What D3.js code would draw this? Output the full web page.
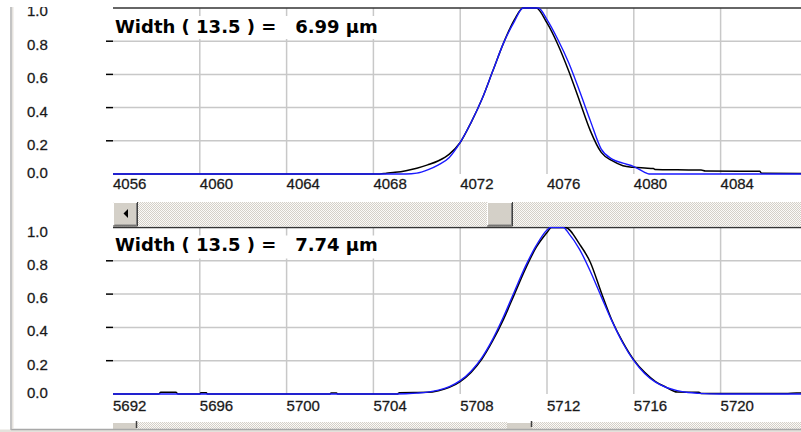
<!DOCTYPE html>
<html>
<head>
<meta charset="utf-8">
<script src="https://cdn.jsdelivr.net/npm/d3@7"></script>
<style>
html,body{margin:0;padding:0;background:#fff;}
svg{display:block;}
.lbl{font-family:"Liberation Sans",Arial,sans-serif;font-size:15px;fill:#111;stroke:#333;stroke-width:0.3px;}
.title{font-family:"DejaVu Sans",Verdana,sans-serif;font-weight:bold;font-size:18px;fill:#000;white-space:pre;}
</style>
</head>
<body>
<svg id="chart" width="801" height="432"></svg>
<script>
// --- Data ---
const yTicks = [0, 0.2, 0.4, 0.6, 0.8, 1.0];

const topTitle = "Width ( 13.5 ) =   6.99 µm";
const topDomain = [4056, 4088];
const topTicks = [4056, 4060, 4064, 4068, 4072, 4076, 4080, 4084];
// measured profile (black)
const topBlack = [
  [4056,0],[4068.3,0],[4068.6,0.005],[4069,0.01],[4069.5,0.02],[4070,0.035],[4070.5,0.055],
  [4071,0.08],[4071.5,0.12],[4072,0.19],[4072.5,0.31],[4073,0.45],[4073.5,0.62],[4074,0.79],
  [4074.5,0.93],[4074.9,1.0],[4075.5,1.0],[4076,0.91],[4076.5,0.78],[4077,0.62],[4077.5,0.44],
  [4078,0.26],[4078.5,0.13],[4079,0.08],[4079.5,0.05],[4080,0.04],[4080.5,0.036],[4080.9,0.033],
  [4081,0.027],[4082,0.025],[4083.1,0.024],[4083.3,0.018],[4085.8,0.016],[4085.9,0.004],[4088,0.003]
];
// gaussian fit (blue)
const topBlue = [
  [4056,0],[4069.5,0],[4070,0.005],[4070.5,0.025],[4071,0.055],[4071.5,0.10],[4072,0.19],
  [4072.5,0.31],[4073,0.45],[4073.5,0.62],[4074,0.79],[4074.5,0.92],[4074.9,1.0],[4075.6,1.0],
  [4076,0.93],[4076.5,0.81],[4077,0.67],[4077.5,0.50],[4078,0.32],[4078.5,0.15],[4079,0.09],
  [4079.5,0.065],[4080,0.045],[4080.5,0.01],[4080.7,0],[4088,0]
];

const botTitle = "Width ( 13.5 ) =   7.74 µm";
const botDomain = [5692, 5724];
const botTicks = [5692, 5696, 5700, 5704, 5708, 5712, 5716, 5720];
const botBlack = [
  [5692,0],[5694.1,0],[5694.2,0.01],[5694.9,0.01],[5695,0],[5696,0],[5696.05,0.008],[5696.3,0.008],
  [5696.35,0],[5702,0],[5702.05,0.006],[5702.3,0.006],[5702.35,0],[5705.1,0],[5705.2,0.008],
  [5706.5,0.01],[5707,0.02],[5707.5,0.04],[5708,0.075],[5708.5,0.13],[5709,0.21],[5709.5,0.32],
  [5710,0.45],[5710.5,0.60],[5711,0.75],[5711.5,0.88],[5712,0.97],[5712.2,1.0],[5712.85,1.0],
  [5713.5,0.90],[5714,0.79],[5714.5,0.61],[5715,0.44],[5715.5,0.31],[5716,0.205],[5716.5,0.13],
  [5717,0.075],[5717.5,0.04],[5718,0.012],[5719,0.01],[5719.1,0.003],[5723,0.003],[5723.5,0.006],[5724,0.003]
];
const botBlue = [
  [5692,0],[5705,0],[5706,0.005],[5706.5,0.011],[5707,0.023],[5707.5,0.044],[5708,0.08],
  [5708.5,0.137],[5709,0.219],[5709.5,0.33],[5710,0.465],[5710.5,0.616],[5711,0.765],
  [5711.5,0.891],[5712,0.985],[5712.15,1.0],[5712.75,1.0],[5713,0.965],[5713.5,0.869],
  [5714,0.736],[5714.5,0.585],[5715,0.436],[5715.5,0.305],[5716,0.20],[5716.5,0.123],
  [5717,0.071],[5717.5,0.039],[5718,0.02],[5718.5,0.009],[5719,0.004],[5720,0],[5724,0]
];

// --- Layout ---
const svg = d3.select("#chart");
const X0 = 113, PX = 21.7;   // plot left edge, px per unit
const fmt = d3.format(".1f");

// dithered scrollbar track
const defs = svg.append("defs");
const pat = defs.append("pattern").attr("id","dither").attr("width",2).attr("height",2)
  .attr("patternUnits","userSpaceOnUse");
pat.append("rect").attr("width",2).attr("height",2).attr("fill","#fbfaf8");
pat.append("rect").attr("width",1).attr("height",1).attr("fill","#d4d0c8");
pat.append("rect").attr("x",1).attr("y",1).attr("width",1).attr("height",1).attr("fill","#d4d0c8");

const panels = [
  {id:"p1", title:topTitle, domain:topDomain, ticks:topTicks, black:topBlack, blue:topBlue, top:8, bottom:174, lblY:188.5, titleY:33},
  {id:"p2", title:botTitle, domain:botDomain, ticks:botTicks, black:botBlack, blue:botBlue, top:227.5, bottom:394, lblY:410.5, titleY:250.5}
];

panels.forEach((p, i) => {
  const x = d3.scaleLinear().domain(p.domain).range([X0, X0 + PX*(p.domain[1]-p.domain[0])]);
  const y = d3.scaleLinear().domain([0,1]).range([p.bottom, p.top]);
  const g = svg.append("g");

  defs.append("clipPath").attr("id","clip"+p.id).append("rect")
    .attr("x",X0).attr("y",p.top-1).attr("width",801-X0).attr("height",p.bottom-p.top+2.5);

  // grid
  g.selectAll(".vg").data(p.ticks.slice(1)).enter().append("line")
    .attr("x1",d=>x(d)).attr("x2",d=>x(d)).attr("y1",p.top).attr("y2",p.bottom)
    .attr("stroke","#c8c8c8").attr("stroke-width",1.5);
  g.selectAll(".hg").data(yTicks.filter(v=>v>0 && v<1)).enter().append("line")
    .attr("x1",X0).attr("x2",801).attr("y1",d=>y(d)).attr("y2",d=>y(d))
    .attr("stroke","#c8c8c8").attr("stroke-width",1.5);

  // left tick marks
  g.selectAll(".tk").data(yTicks.filter(v=>v>0 && v<1)).enter().append("line")
    .attr("x1",106).attr("x2",X0).attr("y1",d=>y(d)).attr("y2",d=>y(d))
    .attr("stroke","#000").attr("stroke-width",1.5);

  // top border
  g.append("line").attr("x1",X0).attr("x2",801).attr("y1",p.top).attr("y2",p.top)
    .attr("stroke","#333").attr("stroke-width",1.5);

  // title box
  g.append("rect").attr("x",X0+1).attr("y",p.top+8).attr("width",270).attr("height",23).attr("fill","#fff");
  g.append("text").attr("class","title").attr("x",115).attr("y",p.titleY).text(p.title);

  // curves
  const line = d3.line().x(d=>x(d[0])).y(d=>y(Math.min(d[1],1))).curve(d3.curveMonotoneX);
  const cg = g.append("g").attr("clip-path",`url(#clip${p.id})`);
  cg.append("path").attr("d",line(p.black)).attr("fill","none").attr("stroke","#000").attr("stroke-width",1.5);
  cg.append("path").attr("d",line(p.blue)).attr("fill","none").attr("stroke","#1a1aff").attr("stroke-width",1.4);

  // labels
  g.selectAll(".xl").data(p.ticks).enter().append("text").attr("class","lbl")
    .attr("x",d=>x(d)).attr("y",p.lblY).text(d=>d);
  g.selectAll(".yl").data(yTicks).enter().append("text").attr("class","lbl")
    .attr("x",27).attr("y",d=> d===0 ? y(d)+3.5 : (i===0 && d===1 ? y(d)+7.5 : y(d)+9)).text(d=>fmt(d));
});

// cover strip at the very top (the 1.0 label is cut there)
svg.append("rect").attr("x",0).attr("y",0).attr("width",801).attr("height",7).attr("fill","#fff");

// Win-style button
function button(gg, x0, y0, w, h){
  gg.append("rect").attr("x",x0).attr("y",y0).attr("width",w).attr("height",h).attr("fill","#d4d0c8");
  gg.append("path").attr("d",`M${x0+0.5},${y0+h}V${y0+0.5}H${x0+w}`).attr("stroke","#fff").attr("fill","none");
  gg.append("path").attr("d",`M${x0+1.5},${y0+h-1.5}H${x0+w-1.5}V${y0+1}`).attr("stroke","#808080").attr("fill","none");
  gg.append("path").attr("d",`M${x0},${y0+h-0.5}H${x0+w-0.5}V${y0}`).attr("stroke","#404040").attr("fill","none");
}

// scrollbar between panels
const sb = svg.append("g");
sb.append("rect").attr("x",X0).attr("y",202).attr("width",801-X0).attr("height",24.5).attr("fill","url(#dither)");
button(sb, X0, 202, 25, 24.5);
sb.append("path").attr("d","M123.5,213.5L128,209V218Z").attr("fill","#000");
button(sb, 487, 202, 26, 24.5);

// partly visible scrollbar at the bottom
const sb2 = svg.append("g");
sb2.append("rect").attr("x",X0).attr("y",422).attr("width",801-X0).attr("height",7.5).attr("fill","url(#dither)");
sb2.append("rect").attr("x",X0).attr("y",422).attr("width",24).attr("height",7.5).attr("fill","#d4d0c8");
sb2.append("path").attr("d",`M${X0},422.5H137`).attr("stroke","#fff");
sb2.append("path").attr("d","M136.5,421V428").attr("stroke","#404040").attr("stroke-width",1.5);
sb2.append("rect").attr("x",507).attr("y",422).attr("width",25).attr("height",7.5).attr("fill","#d4d0c8");
sb2.append("path").attr("d","M507,422.5H532").attr("stroke","#fff");
sb2.append("path").attr("d","M531.5,421V427").attr("stroke","#404040").attr("stroke-width",1.5);

// window frame
svg.append("rect").attr("x",0).attr("y",429.5).attr("width",801).attr("height",2.5).attr("fill","#e4e2dc");
svg.append("line").attr("x1",11).attr("x2",801).attr("y1",429.5).attr("y2",429.5).attr("stroke","#a8a8a8").attr("stroke-width",1.5);
svg.append("line").attr("x1",11).attr("x2",11).attr("y1",7).attr("y2",430).attr("stroke","#b0b0b0").attr("stroke-width",1.5);
svg.append("line").attr("x1",12.8).attr("x2",12.8).attr("y1",7).attr("y2",429).attr("stroke","#e0ddd6").attr("stroke-width",1.2);
</script>
</body>
</html>
